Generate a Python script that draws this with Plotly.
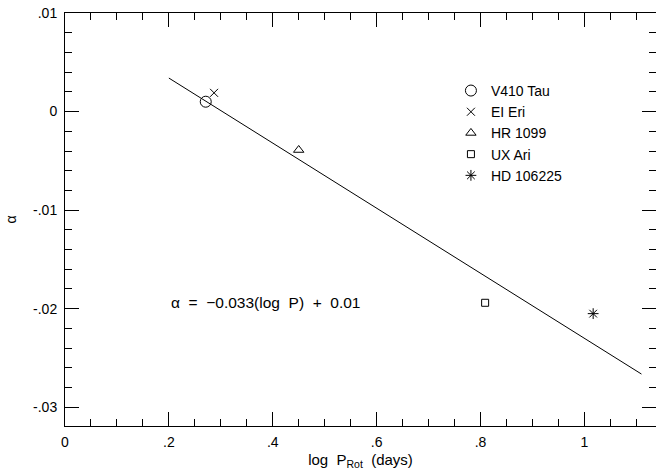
import plotly.graph_objects as go

# data
star_names = ["V410 Tau", "EI Eri", "HR 1099", "UX Ari", "HD 106225"]
log_prot = [0.271, 0.287, 0.45, 0.809, 1.017]
alpha = [0.0010, 0.0019, -0.0039, -0.0194, -0.0205]
symbols = ["circle-open", "x-thin-open", "triangle-up-open", "square-open", "asterisk-open"]
sizes = [11, 8, 9, 7, 9]

fit_x = [0.2, 1.11]
slope, intercept = -0.033, 0.01
fit_y = [slope * v + intercept for v in fit_x]

x_tickvals = [0, 0.2, 0.4, 0.6, 0.8, 1.0]
x_ticktext = ["0", ".2", ".4", ".6", ".8", "1"]
y_tickvals = [-0.03, -0.02, -0.01, 0, 0.01]
y_ticktext = ["-.03", "-.02", "-.01", "0", ".01"]
x_minor = [round(i * 0.05, 3) for i in range(0, 23)]
y_minor = [round(-0.032 + i * 0.002, 4) for i in range(0, 22)]

X_RANGE = [0, 1.138]
Y_RANGE = [-0.0319, 0.01]

FONT = "Liberation Sans, Arial, sans-serif"
FS = 14

fig = go.Figure()
fig.add_trace(go.Scatter(x=fit_x, y=fit_y, mode="lines",
                         line=dict(color="black", width=1), showlegend=False,
                         hoverinfo="skip"))
for n, xv, yv, s, sz in zip(star_names, log_prot, alpha, symbols, sizes):
    fig.add_trace(go.Scatter(x=[xv], y=[yv], mode="markers", name=n,
                             marker=dict(symbol=s, size=sz, color="black",
                                         line=dict(color="black", width=1))))

fig.add_annotation(x=0.2, y=-0.0194, xref="x", yref="y", xanchor="left",
                   text="α  =  −0.033(log  P)  +  0.01", showarrow=False,
                   font=dict(family=FONT, size=15.5, color="black"))

base = dict(showline=True, linecolor="black", linewidth=1, mirror="allticks",
            ticks="inside", tickcolor="black", tickwidth=1,
            showgrid=False, zeroline=False,
            tickfont=dict(family=FONT, size=FS, color="black"))

fig.update_layout(
    width=656, height=472,
    margin=dict(l=65, r=0, t=13, b=46),
    paper_bgcolor="white", plot_bgcolor="white",
    font=dict(family=FONT, size=FS, color="black"),
    xaxis=dict(range=X_RANGE, tickmode="array", tickvals=x_tickvals, ticktext=x_ticktext,
               ticklen=14, ticklabelstandoff=3,
               title=dict(text="log  P<sub>Rot</sub>  (days)", standoff=5,
                          font=dict(family=FONT, size=15, color="black")),
               **base),
    yaxis=dict(range=Y_RANGE, tickmode="array", tickvals=y_tickvals, ticktext=y_ticktext,
               ticklen=14, ticklabelstandoff=4,
               title=dict(text="α", standoff=13,
                          font=dict(family=FONT, size=FS, color="black")),
               **base),
    xaxis2=dict(range=X_RANGE, overlaying="x", side="bottom", tickmode="array",
                tickvals=x_minor, ticklen=7, showticklabels=False, **base),
    yaxis2=dict(range=Y_RANGE, overlaying="y", side="left", tickmode="array",
                tickvals=y_minor, ticklen=7, showticklabels=False, **base),
    legend=dict(x=0.653, y=0.85, xanchor="left", yanchor="top",
                bgcolor="rgba(0,0,0,0)", itemwidth=30, tracegroupgap=0,
                font=dict(family=FONT, size=FS, color="black")),
)

# invisible helper trace so the minor-tick axes are drawn
fig.add_trace(go.Scatter(x=[None], y=[None], xaxis="x2", yaxis="y2",
                         mode="markers", showlegend=False, hoverinfo="skip"))

fig.write_html("out.html", config={"displayModeBar": False},
               post_script="document.body.style.margin='0';document.body.style.overflow='hidden';")
